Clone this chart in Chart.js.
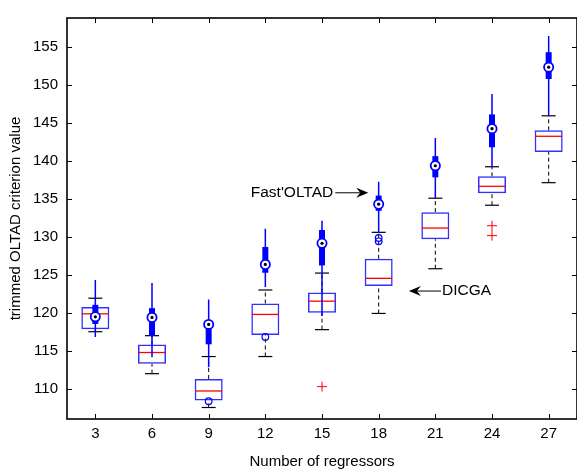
<!DOCTYPE html>
<html>
<head>
<meta charset="utf-8">
<script src="https://cdn.jsdelivr.net/npm/chart.js@4.4.1/dist/chart.umd.min.js"></script>
<style>
  html, body { margin: 0; padding: 0; background: #fff; overflow: hidden; }
</style>
</head>
<body>
<canvas id="boxChart" width="577" height="472"></canvas>
<script>
// --- data ---
const regressors = [3, 6, 9, 12, 15, 18, 21, 24, 27];
const yTicks = [110, 115, 120, 125, 130, 135, 140, 145, 150, 155];

// DICGA (classic boxplot)
const dicgaLow    = [117.56, 112.05, 107.61, 114.30, 117.83, 119.96, 125.83, 134.17, 137.13];
const dicgaQ1     = [117.87, 113.35, 108.52, 117.13, 120.04, 123.57, 129.70, 135.74, 141.17];
const dicgaMedian = [119.91, 114.83, 109.78, 119.83, 121.57, 124.57, 131.17, 136.65, 143.22];
const dicgaQ3     = [120.79, 115.87, 111.35, 121.26, 122.70, 127.13, 133.26, 137.96, 144.00];
const dicgaHigh   = [121.96, 117.04, 114.30, 123.04, 125.26, 130.61, 135.09, 139.22, 145.91];
const dicgaOutX   = [15, 24, 24];
const dicgaOutY   = [110.35, 131.48, 130.18];

// Fast'OLTAD (compact boxplot)
const fastLow     = [116.87, 114.22, 112.91, 123.43, 119.61, 130.61, 135.09, 139.22, 145.91];
const fastQ1      = [118.57, 117.04, 115.91, 125.30, 126.26, 133.43, 137.83, 141.78, 150.74];
const fastMedian  = [119.52, 119.43, 118.52, 126.39, 129.17, 134.30, 139.35, 144.22, 152.30];
const fastQ3      = [121.09, 120.65, 119.09, 128.69, 130.91, 135.43, 140.61, 146.09, 154.26];
const fastHigh    = [124.35, 123.96, 121.78, 131.09, 132.13, 137.26, 143.00, 148.78, 156.39];
const fastOutX    = [9, 12, 18, 18];
const fastOutY    = [108.43, 116.87, 129.87, 129.43];

const xTitle = 'Number of regressors';
const yTitle = 'trimmed OLTAD criterion value';

// arrow notes, in data units: label, tail x, tip x, y
const notes = [
  { text: "Fast'OLTAD", tailX: 15.7, tipX: 17.45, y: 135.8 },
  { text: 'DICGA', tailX: 21.3, tipX: 19.6, y: 122.9 }
];

const FONT = { family: "'Liberation Sans', Arial, Helvetica, sans-serif", size: 15 };
Chart.defaults.font.family = FONT.family;
Chart.defaults.font.size = FONT.size;
Chart.defaults.color = '#000';

// vertical segments lo->hi for every category, split by nulls
function segments(lo, hi) {
  const pts = [];
  regressors.forEach((r, i) => {
    pts.push({ x: r, y: lo[i] }, { x: r, y: hi[i] }, { x: r, y: null });
  });
  return pts;
}
function points(xs, ys) {
  return xs.map((x, i) => ({ x: x, y: ys[i] }));
}

// frame, inward ticks and the two arrow notes
const framePlugin = {
  id: 'frame',
  afterDatasetsDraw(chart) {
    const { ctx, chartArea: a, scales } = chart;
    const xs = scales.x, ys = scales.y;
    ctx.save();
    ctx.strokeStyle = '#000';
    ctx.lineWidth = 1;
    ctx.beginPath();
    regressors.forEach(v => {
      const px = Math.round(xs.getPixelForValue(v)) + 0.5;
      ctx.moveTo(px, a.bottom); ctx.lineTo(px, a.bottom - 5);
      ctx.moveTo(px, a.top); ctx.lineTo(px, a.top + 5);
    });
    yTicks.forEach(v => {
      const py = Math.round(ys.getPixelForValue(v)) + 0.5;
      ctx.moveTo(a.left, py); ctx.lineTo(a.left + 5, py);
      ctx.moveTo(a.right, py); ctx.lineTo(a.right - 5, py);
    });
    ctx.stroke();
    ctx.lineWidth = 1.6;
    ctx.strokeRect(a.left, a.top, a.right - a.left, a.bottom - a.top);

    // arrows
    ctx.font = '15.5px ' + FONT.family;
    ctx.textBaseline = 'middle';
    ctx.fillStyle = '#000';
    notes.forEach(n => {
      const tail = xs.getPixelForValue(n.tailX);
      const tip = xs.getPixelForValue(n.tipX);
      const y = ys.getPixelForValue(n.y);
      const dir = tip > tail ? 1 : -1;
      ctx.lineWidth = 1;
      ctx.beginPath();
      ctx.moveTo(tail, y);
      ctx.lineTo(tip - dir * 8, y);
      ctx.stroke();
      ctx.beginPath();
      ctx.moveTo(tip, y);
      ctx.lineTo(tip - dir * 12, y - 5);
      ctx.lineTo(tip - dir * 8, y);
      ctx.lineTo(tip - dir * 12, y + 5);
      ctx.closePath();
      ctx.fill();
      if (dir > 0) {
        ctx.textAlign = 'right';
        ctx.fillText(n.text, tail - 2, y);
      } else {
        ctx.textAlign = 'left';
        ctx.fillText(n.text, tail + 1, y);
      }
    });
    ctx.restore();
  }
};

const BLUE = '#0000ff';

const chart = new Chart(document.getElementById('boxChart'), {
  type: 'bar',
  data: {
    datasets: [
      // DICGA whiskers (dashed)
      {
        type: 'line', order: 9,
        data: segments(dicgaQ3, dicgaHigh).concat(segments(dicgaLow, dicgaQ1)),
        borderColor: '#000', borderWidth: 1, borderDash: [4, 3],
        pointRadius: 0, spanGaps: false, fill: false
      },
      // DICGA whisker caps
      {
        type: 'scatter', order: 8,
        data: points(regressors, dicgaHigh).concat(points(regressors, dicgaLow)),
        pointStyle: 'line', pointRadius: 7, borderColor: '#000', borderWidth: 1.2
      },
      // DICGA boxes
      {
        type: 'bar', order: 7,
        data: regressors.map((r, i) => ({ x: r, y: [dicgaQ1[i], dicgaQ3[i]] })),
        maxBarThickness: 28, grouped: false, borderSkipped: false,
        borderColor: '#3030ff', borderWidth: 1.5, backgroundColor: 'rgba(255,255,255,0)'
      },
      // DICGA medians
      {
        type: 'scatter', order: 6,
        data: points(regressors, dicgaMedian),
        pointStyle: 'line', pointRadius: 13.5, borderColor: '#ff0000', borderWidth: 1.3
      },
      // DICGA outliers
      {
        type: 'scatter', order: 6,
        data: points(dicgaOutX, dicgaOutY),
        pointStyle: 'cross', pointRadius: 5, borderColor: '#ff0000', borderWidth: 1
      },
      // Fast'OLTAD whiskers
      {
        type: 'line', order: 5,
        data: segments(fastLow, fastHigh),
        borderColor: BLUE, borderWidth: 1.5, pointRadius: 0, spanGaps: false, fill: false
      },
      // Fast'OLTAD IQR bars
      {
        type: 'bar', order: 4,
        data: regressors.map((r, i) => ({ x: r, y: [fastQ1[i], fastQ3[i]] })),
        maxBarThickness: 6, grouped: false, borderSkipped: false,
        borderWidth: 0, backgroundColor: BLUE
      },
      // Fast'OLTAD median circles
      {
        type: 'scatter', order: 3,
        data: points(regressors, fastMedian),
        pointStyle: 'circle', pointRadius: 4.6, borderColor: BLUE, borderWidth: 1.8,
        backgroundColor: '#fff'
      },
      // Fast'OLTAD median dots
      {
        type: 'scatter', order: 2,
        data: points(regressors, fastMedian),
        pointStyle: 'circle', pointRadius: 1.6, borderWidth: 0, backgroundColor: '#000'
      },
      // Fast'OLTAD outliers
      {
        type: 'scatter', order: 2,
        data: points(fastOutX, fastOutY),
        pointStyle: 'circle', pointRadius: 3.3, borderColor: BLUE, borderWidth: 1.2,
        backgroundColor: 'rgba(255,255,255,0)'
      }
    ]
  },
  options: {
    responsive: false,
    animation: false,
    events: [],
    // the right-hand axis line sits just past the picture's edge
    layout: { autoPadding: false, padding: { left: 0, top: 15, right: -2, bottom: 0 } },
    plugins: { legend: { display: false }, tooltip: { enabled: false } },
    scales: {
      x: {
        type: 'linear', min: 1.5, max: 28.5, offset: false,
        afterBuildTicks: s => { s.ticks = regressors.map(v => ({ value: v })); },
        afterFit: s => { s.height = 53; s.paddingLeft = 0; s.paddingRight = 0; },
        ticks: { padding: 6, autoSkip: false, maxRotation: 0, color: '#000' },
        grid: { display: false, drawTicks: false, offset: false },
        border: { display: false },
        title: { display: true, text: xTitle, color: '#000', padding: { top: 0, bottom: 1 } }
      },
      y: {
        type: 'linear', min: 106.1, max: 158.75, beginAtZero: false,
        afterBuildTicks: s => { s.ticks = yTicks.map(v => ({ value: v })); },
        afterFit: s => { s.width = 67; },
        ticks: { padding: 9, color: '#000' },
        grid: { display: false, drawTicks: false },
        border: { display: false },
        title: { display: true, text: yTitle, color: '#000', padding: { top: 7, bottom: 0 } }
      }
    }
  },
  plugins: [framePlugin]
});
</script>
</body>
</html>
